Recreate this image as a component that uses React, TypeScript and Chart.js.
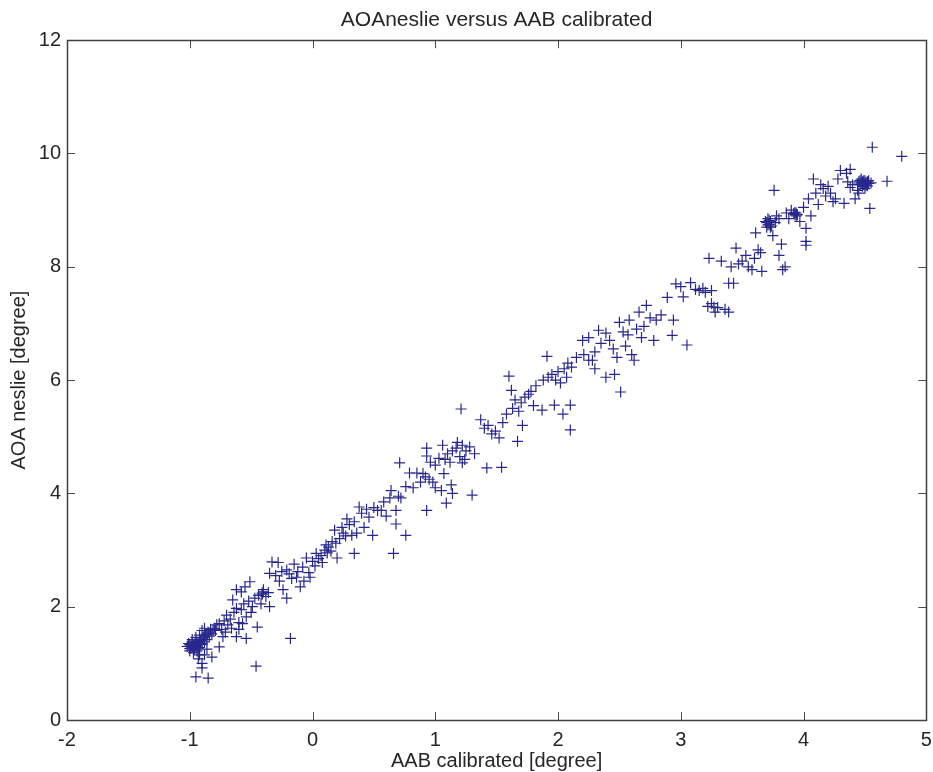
import React, { useEffect, useRef } from "react";
import { Chart, registerables } from "chart.js";

Chart.register(...registerables);

const chartTitle = "AOAneslie versus AAB calibrated";
const xAxisTitle = "AAB calibrated [degree]";
const yAxisTitle = "AOA neslie [degree]";
const xTicks = [-2, -1, 0, 1, 2, 3, 4, 5];
const yTicks = [0, 2, 4, 6, 8, 10, 12];

// [AAB calibrated, AOA neslie] pairs
const lowCluster: [number, number][] = [
  [-1.02, 1.30], [-1.01, 1.35], [-1.00, 1.33], [-1.00, 1.26], [-0.99, 1.27], [-0.99, 1.31], [-0.98, 1.36],
  [-0.98, 1.29], [-0.97, 1.31], [-0.97, 1.24], [-0.96, 1.25], [-0.96, 1.34], [-0.95, 1.38], [-0.95, 1.30],
  [-0.94, 1.30], [-0.94, 1.36], [-0.93, 1.34], [-0.93, 1.27], [-0.92, 1.28], [-0.92, 1.38], [-0.91, 1.40],
  [-0.91, 1.33], [-0.90, 1.35], [-0.90, 1.42], [-0.89, 1.45], [-0.88, 1.38], [-0.88, 1.48], [-0.87, 1.50],
  [-0.86, 1.42], [-0.86, 1.52], [-0.85, 1.55], [-0.84, 1.48], [-0.83, 1.60], [-0.82, 1.52], [-0.81, 1.58],
  [-0.80, 1.62], [-0.79, 1.58], [-0.78, 1.68], [-0.76, 1.70], [-1.00, 1.22], [-0.97, 1.19], [-0.94, 1.22],
  [-0.98, 1.42], [-0.95, 1.46], [-0.92, 1.50], [-0.90, 1.58], [-0.88, 1.62], [-0.95, 0.76], [-0.85, 0.74],
  [-0.90, 1.00], [-0.93, 1.08], [-0.82, 1.11], [-0.88, 1.15], [-0.86, 1.25], [-0.90, 0.92], [-0.92, 1.15],
];

const lowerBand: [number, number][] = [
  [-0.76, 1.29], [-0.73, 1.47], [-0.69, 1.68], [-0.65, 2.12], [-0.62, 1.97], [-0.62, 1.47], [-0.58, 2.26],
  [-0.54, 1.82], [-0.54, 1.44], [-0.51, 2.44], [-0.49, 2.00], [-0.45, 1.64], [-0.41, 2.24], [-0.35, 2.00],
  [-0.35, 2.59], [-0.33, 2.79], [-0.72, 1.75], [-0.70, 1.85], [-0.67, 1.78], [-0.64, 1.90], [-0.60, 1.72],
  [-0.58, 1.95], [-0.56, 2.05], [-0.52, 2.10], [-0.50, 1.90], [-0.47, 2.15], [-0.44, 2.20], [-0.42, 2.05],
  [-0.40, 2.30], [-0.38, 2.18], [-0.36, 2.25], [-0.74, 1.60], [-0.71, 1.55], [-0.66, 1.62], [-0.60, 1.60],
  [-0.57, 1.70], [-0.62, 2.30], [-0.55, 2.35], [-0.46, 0.95], [-0.18, 1.44], [-0.21, 2.15], [-0.41, 2.22],
  [-0.40, 2.26],
];

const midLowBand: [number, number][] = [
  [-0.30, 2.55], [-0.27, 2.45], [-0.25, 2.62], [-0.21, 2.65], [-0.19, 2.58], [-0.17, 2.50], [-0.13, 2.52],
  [-0.10, 2.35], [-0.08, 2.70], [-0.05, 2.86], [-0.03, 2.60], [-0.02, 2.52], [0.00, 2.80], [0.03, 2.94],
  [0.05, 2.85], [0.07, 2.90], [0.10, 3.00], [0.11, 3.09], [0.13, 3.05], [0.16, 3.15], [0.19, 3.12],
  [0.20, 2.86], [0.22, 3.20], [0.25, 3.30], [0.27, 3.25], [-0.15, 2.75], [-0.12, 2.62], [-0.07, 2.45],
  [0.02, 2.72], [0.08, 2.78], [0.12, 2.95], [0.15, 2.98], [0.18, 3.35], [0.24, 3.40], [-0.28, 2.78],
  [-0.24, 2.30],
];

const midBand: [number, number][] = [
  [0.30, 3.45], [0.32, 3.26], [0.34, 2.94], [0.34, 3.50], [0.38, 3.76], [0.40, 3.65], [0.42, 3.40],
  [0.44, 3.72], [0.46, 3.58], [0.49, 3.26], [0.50, 3.75], [0.53, 3.70], [0.56, 3.70], [0.58, 3.85],
  [0.63, 3.92], [0.66, 2.94], [0.68, 3.70], [0.68, 3.46], [0.70, 3.95], [0.71, 4.54], [0.72, 3.92],
  [0.76, 4.12], [0.76, 3.26], [0.79, 4.36], [0.82, 4.10], [0.85, 4.36], [0.88, 4.20], [0.36, 3.30],
  [0.28, 3.55], [0.60, 3.60], [0.64, 4.05],
];

const upperMidBand: [number, number][] = [
  [0.92, 4.29], [0.93, 4.66], [0.93, 3.70], [0.95, 4.25], [0.98, 4.20], [0.93, 4.80], [0.96, 4.55],
  [1.00, 4.50], [1.03, 4.62], [1.06, 4.85], [1.08, 4.60], [1.10, 4.70], [1.12, 4.55], [1.14, 4.75],
  [1.17, 4.80], [1.20, 4.65], [1.22, 4.54], [1.07, 4.35], [1.13, 4.15], [1.09, 3.83], [0.90, 4.35],
  [1.00, 4.10], [1.05, 4.05], [1.14, 4.00], [1.30, 3.97], [1.21, 5.49], [1.18, 4.90], [1.22, 4.85],
  [1.25, 4.75], [1.28, 4.82], [1.32, 4.70], [1.37, 5.30], [1.40, 5.15], [1.43, 5.20], [1.46, 5.05],
  [1.49, 5.10], [1.52, 4.98], [1.42, 4.45], [1.54, 4.46], [1.24, 4.60],
];

const centralBand: [number, number][] = [
  [1.55, 5.25], [1.58, 5.40], [1.60, 6.07], [1.62, 5.82], [1.65, 5.65], [1.67, 4.92], [1.70, 5.60],
  [1.71, 5.20], [1.73, 5.70], [1.76, 5.75], [1.78, 5.80], [1.80, 5.55], [1.82, 5.90], [1.87, 5.47],
  [1.88, 6.00], [1.91, 6.42], [1.92, 6.05], [1.95, 6.10], [1.97, 5.56], [1.98, 6.00], [2.00, 6.15],
  [2.02, 5.95], [2.04, 5.40], [2.05, 6.20], [2.07, 6.05], [2.10, 5.12], [2.10, 5.56], [2.08, 6.30],
  [2.11, 6.23], [1.63, 5.50], [1.68, 5.45],
];

const upperBand: [number, number][] = [
  [2.15, 6.40], [2.20, 6.70], [2.21, 6.45], [2.25, 6.35], [2.28, 6.35], [2.30, 6.50], [2.33, 6.88],
  [2.35, 6.65], [2.39, 6.83], [2.39, 6.05], [2.42, 6.70], [2.46, 6.10], [2.48, 6.40], [2.50, 7.02],
  [2.51, 5.79], [2.53, 6.85], [2.55, 6.60], [2.58, 7.06], [2.60, 6.45], [2.62, 6.35], [2.64, 6.90],
  [2.66, 7.20], [2.68, 6.75], [2.70, 6.95], [2.25, 6.75], [2.30, 6.20], [2.45, 6.55], [2.57, 6.80],
];

const highBand: [number, number][] = [
  [2.72, 7.32], [2.75, 7.10], [2.78, 6.70], [2.80, 7.06], [2.84, 7.15], [2.89, 7.46], [2.93, 6.79],
  [2.94, 7.06], [2.96, 7.70], [3.00, 7.65], [3.02, 7.47], [3.05, 6.62], [3.08, 7.72], [3.12, 7.60],
  [3.15, 7.58], [3.18, 7.62], [3.20, 7.55], [3.22, 7.30], [3.25, 7.58], [3.25, 7.35], [3.23, 8.15],
  [3.28, 7.20], [3.30, 7.28], [3.33, 8.10], [3.36, 7.25], [3.39, 7.71], [3.39, 7.20], [3.41, 8.00],
  [3.43, 7.71], [3.45, 8.33], [3.47, 8.05], [3.27, 7.29],
];

const topBand: [number, number][] = [
  [3.50, 8.10], [3.53, 8.20], [3.55, 8.00], [3.58, 7.95], [3.60, 8.15], [3.61, 8.60], [3.63, 8.30],
  [3.65, 8.25], [3.66, 7.92], [3.69, 8.80], [3.70, 8.70], [3.71, 8.85], [3.72, 8.75], [3.73, 8.80],
  [3.74, 8.72], [3.75, 8.55], [3.76, 9.35], [3.77, 8.78], [3.78, 8.90], [3.80, 8.85], [3.80, 8.20],
  [3.82, 8.40], [3.83, 7.95], [3.85, 8.00], [3.86, 8.95], [3.88, 8.85], [3.90, 9.00], [3.92, 8.94],
  [3.93, 8.96], [3.94, 8.90], [3.95, 8.92], [3.97, 8.80], [4.00, 9.05], [4.02, 8.68], [4.02, 8.45],
  [4.02, 8.38], [4.04, 9.20], [4.06, 8.90], [3.70, 8.78], [3.72, 8.82], [3.71, 8.74], [3.73, 8.70],
  [3.93, 8.92], [3.94, 8.95],
];

const peakCluster: [number, number][] = [
  [4.08, 9.55], [4.10, 9.30], [4.12, 9.10], [4.14, 9.45], [4.16, 9.38], [4.18, 9.25], [4.20, 9.42],
  [4.22, 9.30], [4.24, 9.15], [4.26, 9.20], [4.28, 9.55], [4.30, 9.70], [4.33, 9.12], [4.35, 9.65],
  [4.36, 9.50], [4.38, 9.72], [4.40, 9.45], [4.42, 9.20], [4.44, 9.35], [4.45, 9.50], [4.46, 9.45],
  [4.47, 9.48], [4.48, 9.42], [4.49, 9.52], [4.50, 9.46], [4.51, 9.44], [4.52, 9.50], [4.53, 9.47],
  [4.54, 9.03], [4.55, 9.48], [4.56, 10.11], [4.68, 9.51], [4.80, 9.95], [4.45, 9.30], [4.38, 9.40],
  [4.47, 9.55], [4.50, 9.38], [4.48, 9.50], [4.49, 9.45], [4.51, 9.49], [4.52, 9.43], [4.46, 9.52],
  [4.53, 9.52], [4.50, 9.52], [4.44, 9.46],
];

const allPoints = [
  ...lowCluster, ...lowerBand, ...midLowBand, ...midBand, ...upperMidBand,
  ...centralBand, ...upperBand, ...highBand, ...topBand, ...peakCluster,
];

const FONT = "'Liberation Sans', Arial, Helvetica, sans-serif";
const TEXT = "#262626";

const frameTicksPlugin = {
  id: "frameTicks",
  afterDatasetsDraw(chart: any) {
    const { ctx, chartArea, scales } = chart;
    const { left, right, top, bottom } = chartArea;
    const len = 8;
    ctx.save();
    ctx.strokeStyle = "#4a4a4a";
    ctx.lineWidth = 1;
    ctx.beginPath();
    xTicks.forEach((v) => {
      const px = Math.round(scales.x.getPixelForValue(v)) + 0.5;
      ctx.moveTo(px, bottom);
      ctx.lineTo(px, bottom - len);
      ctx.moveTo(px, top);
      ctx.lineTo(px, top + len);
    });
    yTicks.forEach((v) => {
      const py = Math.round(scales.y.getPixelForValue(v)) + 0.5;
      ctx.moveTo(left, py);
      ctx.lineTo(left + len, py);
      ctx.moveTo(right, py);
      ctx.lineTo(right - len, py);
    });
    ctx.stroke();
    ctx.lineWidth = 1.5;
    ctx.strokeStyle = "#404040";
    ctx.strokeRect(Math.round(left) + 0.5, Math.round(top) + 0.5, Math.round(right - left), Math.round(bottom - top));
    ctx.restore();
  },
};

export default function App() {
  const ref = useRef<HTMLCanvasElement | null>(null);

  useEffect(() => {
    if (!ref.current) return;
    const chart = new Chart(ref.current, {
      type: "scatter",
      data: {
        datasets: [
          {
            label: "AOA",
            data: allPoints.map(([x, y]) => ({ x, y })),
            pointStyle: "cross",
            pointRadius: 5.5,
            pointBorderWidth: 1.2,
            pointBorderColor: "#28288c",
            pointBackgroundColor: "#28288c",
            pointHoverRadius: 5.5,
          },
        ],
      },
      options: {
        animation: false,
        responsive: false,
        devicePixelRatio: 1,
        layout: { padding: { left: 0, right: 4, top: 0, bottom: 0 } },
        plugins: {
          legend: { display: false },
          tooltip: { enabled: false },
          title: {
            display: true,
            fullSize: false,
            text: chartTitle,
            color: TEXT,
            font: { family: FONT, size: 21, weight: "normal", lineHeight: 1.2 },
            padding: { top: 8, bottom: 7 },
          },
        },
        scales: {
          x: {
            type: "linear",
            min: -2,
            max: 5,
            afterBuildTicks: (s: any) => {
              s.ticks = xTicks.map((v) => ({ value: v }));
            },
            afterFit: (s: any) => {
              s.height = 52;
              s.paddingLeft = 0;
              s.paddingRight = 0;
            },
            grid: { display: false, drawTicks: false },
            border: { display: false },
            ticks: {
              color: TEXT,
              padding: 8,
              font: { family: FONT, size: 20, lineHeight: 1.2 },
              maxRotation: 0,
              autoSkip: false,
            },
            title: {
              display: true,
              text: xAxisTitle,
              color: TEXT,
              font: { family: FONT, size: 20, lineHeight: 1 },
              padding: { top: 0, bottom: 1 },
            },
          },
          y: {
            type: "linear",
            min: 0,
            max: 12,
            afterBuildTicks: (s: any) => {
              s.ticks = yTicks.map((v) => ({ value: v }));
            },
            afterFit: (s: any) => {
              s.width = 67;
              s.paddingTop = 0;
              s.paddingBottom = 0;
            },
            grid: { display: false, drawTicks: false },
            border: { display: false },
            ticks: {
              color: TEXT,
              padding: 6,
              font: { family: FONT, size: 20, lineHeight: 1.2 },
              autoSkip: false,
            },
            title: {
              display: true,
              text: yAxisTitle,
              color: TEXT,
              font: { family: FONT, size: 20, lineHeight: 1 },
              padding: { top: 9, bottom: 0 },
            },
          },
        },
      },
      plugins: [frameTicksPlugin],
    });
    return () => chart.destroy();
  }, []);

  return (
    <div style={{ position: "fixed", left: 0, top: 0, width: 933, height: 772, background: "#ffffff" }}>
      <canvas ref={ref} width={933} height={772} style={{ display: "block" }} />
    </div>
  );
}
